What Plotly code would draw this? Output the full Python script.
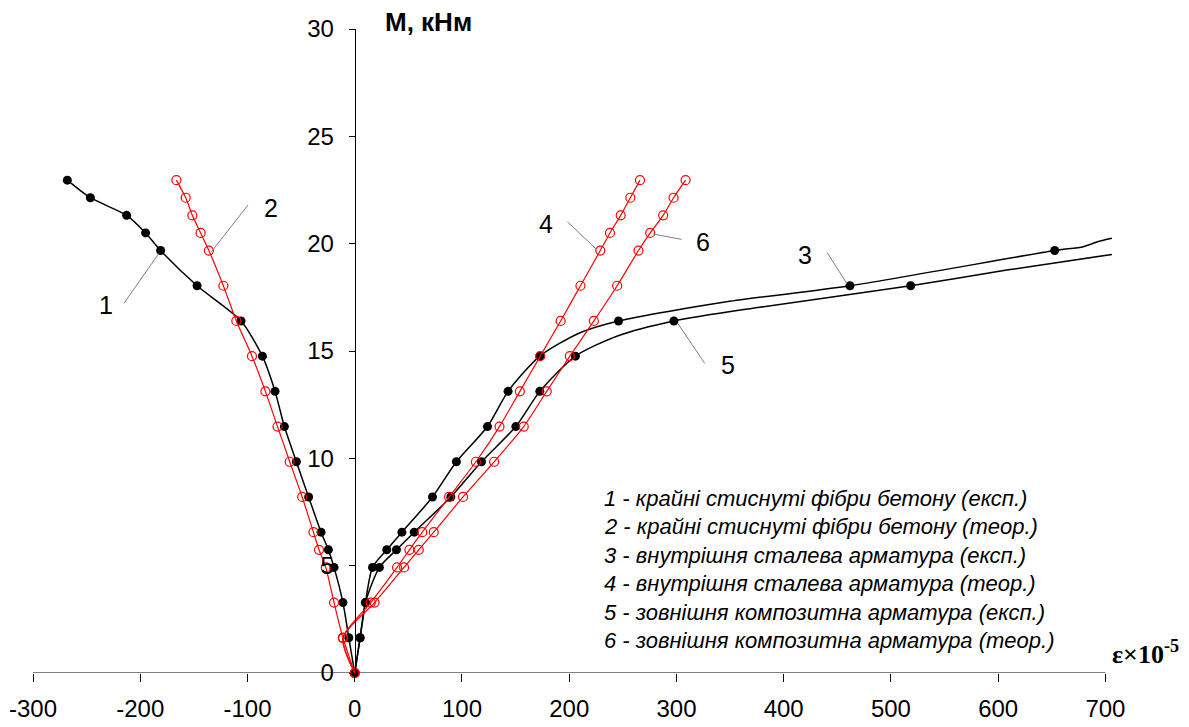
import plotly.graph_objects as go

# ---- data (strain x10^-5 vs moment, kNm) ----
M_levels = [0, 1.64, 3.28, 4.92, 5.74, 6.56, 8.2, 9.84, 11.48, 13.12, 14.76,
            16.4, 18.04, 19.68, 20.5, 21.32, 22.14, 22.96]

c1_e = [0, -5.5, -11, -19.3, -24.6, -31.4, -43, -54.4, -65.6, -74.3, -86.1,
        -106, -147, -181, -195, -212.7, -246.5, -268]
c2_e = [0, -11, -19.3, -27, -33.3, -38.5, -49, -60.6, -72, -83.3, -95.8,
        -110.4, -122.5, -136, -143.7, -151.4, -157.6, -166.3]
c4_e = [0, -11, 15, 39.5, 51, 63, 88, 113, 135, 154, 173,
        192, 210.5, 229, 238, 248, 257, 266]
c6_e = [0, -11, 18.5, 46, 59.7, 73.7, 101, 130, 157.6, 179, 200.6,
        223, 244.7, 264.6, 275.5, 287.6, 297.3, 308.5]

c3_M = [0, 1.64, 3.28, 4.92, 5.74, 6.56, 8.2, 9.84, 11.48, 13.12, 14.76, 16.4, 18.04, 19.68]
c3_e = [0, 5, 10, 16.6, 29.9, 44, 72.5, 94.8, 123.8, 143, 172.6, 246, 461.8, 652.7]
c3_line_M = [15.85, 17.29, 19.86, 20.1, 20.25]
c3_line_e = [210, 346.7, 679.4, 693.4, 706]

c5_M = [0, 1.64, 3.28, 4.92, 5.74, 6.56, 8.2, 9.84, 11.48, 13.12, 14.76, 16.4, 18.04]
c5_e = [0, 5, 10, 23, 38.9, 55.5, 89.6, 118.2, 150.2, 172.6, 205.8, 297.6, 518.4]
c5_line_M = [15.7, 17.04, 18.77, 19.5]
c5_line_e = [245, 377.8, 608, 706]

legend_lines = [
    "1 - крайні стиснуті фібри бетону (експ.)",
    "2 - крайні стиснуті фібри бетону (теор.)",
    "3 - внутрішня сталева арматура (експ.)",
    "4 - внутрішня сталева арматура (теор.)",
    "5 - зовнішня композитна арматура (експ.)",
    "6 - зовнішня композитна арматура (теор.)",
]

x_ticks = [-300, -200, -100, 0, 100, 200, 300, 400, 500, 600, 700]
y_ticks = [0, 5, 10, 15, 20, 25, 30]

# curve labels: (text, label x, label y, leader x0, y0, x1, y1)
curve_labels = [
    ("1", -231.6, 17.14, -215.2, 17.22, -182.6, 19.55),
    ("2", -77.7, 21.64, -99.5, 21.8, -133.7, 19.62),
    ("3", 419.8, 19.47, 440.6, 19.58, 459.2, 18.12),
    ("4", 178.2, 20.9, 198.4, 21.02, 225.5, 19.73),
    ("5", 348.2, 14.35, 326.5, 14.42, 301.6, 16.26),
    ("6", 324.9, 20.09, 304.8, 20.2, 278.3, 20.45),
]

FONT = "Liberation Sans, Arial, sans-serif"
SERIF = "Liberation Serif, Times New Roman, serif"
XMIN, XMAX = -300, 708

# layout geometry (page body adds 8px offset)
ML, MR, MT, MB = 25, 75, 21, 54
W, H = 1181, 719
PW, PH = W - ML - MR, H - MT - MB
OFF = 8


def px_to_paper(xp, yp):
    return (xp - OFF - ML) / PW, (OFF + MT + PH - yp) / PH


def merged(e, m, le, lm):
    pts = sorted(list(zip(m, e)) + list(zip(lm, le)))
    return [p[1] for p in pts], [p[0] for p in pts]


fig = go.Figure()

black_marker = dict(symbol="circle", size=9, color="black")
red_marker = dict(symbol="circle-open", size=9, color="red", line=dict(width=1.2, color="red"))


def add_curve(ex, my, color, marker, lx=None, ly=None, width=1.5):
    if lx is None:
        lx, ly = ex, my
    fig.add_trace(go.Scatter(x=lx, y=ly, mode="lines",
                             line=dict(color=color, width=width, shape="spline", smoothing=0.7),
                             hoverinfo="skip", showlegend=False, cliponaxis=False))
    fig.add_trace(go.Scatter(x=ex, y=my, mode="markers", marker=marker,
                             showlegend=False, cliponaxis=False))


l3x, l3y = merged(c3_e, c3_M, c3_line_e, c3_line_M)
l5x, l5y = merged(c5_e, c5_M, c5_line_e, c5_line_M)

add_curve(c1_e, M_levels, "black", black_marker)
add_curve(c3_e, c3_M, "black", black_marker, l3x, l3y)
add_curve(c5_e, c5_M, "black", black_marker, l5x, l5y)
add_curve(c2_e, M_levels, "red", red_marker, width=1.2)
add_curve(c4_e, M_levels, "red", red_marker, width=1.2)
add_curve(c6_e, M_levels, "red", red_marker, width=1.2)

shapes = [dict(type="line", xref="x", yref="y", x0=-300, y0=0, x1=700, y1=0,
               line=dict(color="black", width=1), layer="below")]
annotations = []
for t, tx, ty, x0, y0, x1, y1 in curve_labels:
    shapes.append(dict(type="line", xref="x", yref="y", x0=x0, y0=y0, x1=x1, y1=y1,
                       line=dict(color="#808080", width=1)))
    annotations.append(dict(x=tx, y=ty, xref="x", yref="y", text=t, showarrow=False,
                            font=dict(family=FONT, size=25, color="black"),
                            xanchor="center", yanchor="middle"))

for i, line in enumerate(legend_lines):
    lx, ly = px_to_paper(602, 498.3 + i * 28.5)
    annotations.append(dict(x=lx, y=ly, xref="paper", yref="paper",
                            text="<i>" + line + "</i>", showarrow=False,
                            font=dict(family=FONT, size=22, color="black"),
                            xanchor="left", yanchor="middle"))

mx, my = px_to_paper(383, 22)
annotations.append(dict(x=mx, y=my, xref="paper", yref="paper", text="<b>M, кНм</b>",
                        showarrow=False, font=dict(family=FONT, size=26, color="black"),
                        xanchor="left", yanchor="middle"))
ex_, ey_ = px_to_paper(1110, 652)
annotations.append(dict(x=ex_, y=ey_, xref="paper", yref="paper",
                        text="<b>ε×10<sup>-5</sup></b>", showarrow=False,
                        font=dict(family=SERIF, size=26, color="black"),
                        xanchor="left", yanchor="middle"))

fig.update_layout(
    width=W, height=H,
    margin=dict(l=ML, r=MR, t=MT, b=MB),
    paper_bgcolor="white", plot_bgcolor="white",
    shapes=shapes,
    annotations=annotations,
    xaxis=dict(range=[XMIN, XMAX], tickvals=x_ticks, ticktext=[str(v) for v in x_ticks],
               showline=False, zeroline=False, showgrid=False,
               ticks="outside", ticklen=8, tickcolor="black", tickwidth=1,
               ticklabelstandoff=6,
               tickfont=dict(family=FONT, size=24, color="black"), automargin=False),
    yaxis=dict(range=[0, 30], tickvals=y_ticks, anchor="free",
               position=(0 - XMIN) / (XMAX - XMIN),
               showline=True, linecolor="black", linewidth=1, zeroline=False, showgrid=False,
               ticks="outside", ticklen=6, tickcolor="black", tickwidth=1,
               ticklabelstandoff=10,
               tickfont=dict(family=FONT, size=24, color="black"), automargin=False),
)

fig.write_html("out.html")
